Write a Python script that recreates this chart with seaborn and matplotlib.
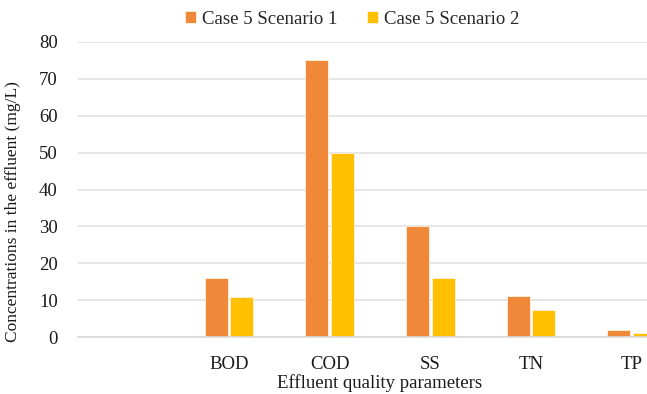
import pandas as pd
import numpy as np
import matplotlib
matplotlib.use('Agg')
import matplotlib.pyplot as plt
import seaborn as sns

sns.set_style('white')
plt.rcParams['font.family'] = ['Liberation Serif', 'DejaVu Serif']

# 数据
categories = ['', 'BOD', 'COD', 'SS', 'TN', 'TP']
params = ['BOD', 'COD', 'SS', 'TN', 'TP']
scenario1 = [16, 75.2, 30, 11, 1.8]
scenario2 = [10.9, 50, 16, 7.3, 1.0]
series = ['Case 5 Scenario 1', 'Case 5 Scenario 2']
colors = ['#F0883A', '#FFC000']

df = pd.DataFrame({
    'param': params * 2,
    'value': scenario1 + scenario2,
    'case': [series[0]] * len(params) + [series[1]] * len(params),
})

fig = plt.figure(figsize=(6.47, 3.94), dpi=100)
ax = fig.add_axes([78 / 647, 57 / 394, 604 / 647, 295 / 394])

sns.barplot(data=df, x='param', y='value', hue='case', order=categories,
            hue_order=series, palette=colors, saturation=1, width=0.51, gap=0.1,
            edgecolor='#FFF3E0', linewidth=0.6, ax=ax)

ax.set_ylim(0, 80)
ax.set_yticks(np.arange(0, 81, 10))
ax.yaxis.grid(True, color='#E2E2E2', linewidth=1.2)
ax.set_axisbelow(True)
for s in ['top', 'right', 'left']:
    ax.spines[s].set_visible(False)
ax.spines['bottom'].set_color('#D9D9D9')
ax.spines['bottom'].set_linewidth(1.2)
ax.tick_params(axis='both', length=0, labelsize=13.5, colors='#1a1a1a')
ax.tick_params(axis='x', pad=14)
ax.tick_params(axis='y', pad=14.5)

ax.set_xlabel('Effluent quality parameters', fontsize=13.5, labelpad=0.5, color='#1a1a1a')
ax.set_ylabel('Concentrations in the effluent (mg/L)', fontsize=12.5, color='#1a1a1a')
ax.yaxis.set_label_coords(-0.095, 0.424)

ax.legend(loc='center', bbox_to_anchor=(352 / 647, 1 - 19 / 394),
          bbox_transform=fig.transFigure, ncol=2, frameon=False,
          fontsize=13.5, handlelength=0.6, handleheight=0.6,
          handletextpad=0.3, columnspacing=1.6)

fig.savefig('out.png', dpi=100)
